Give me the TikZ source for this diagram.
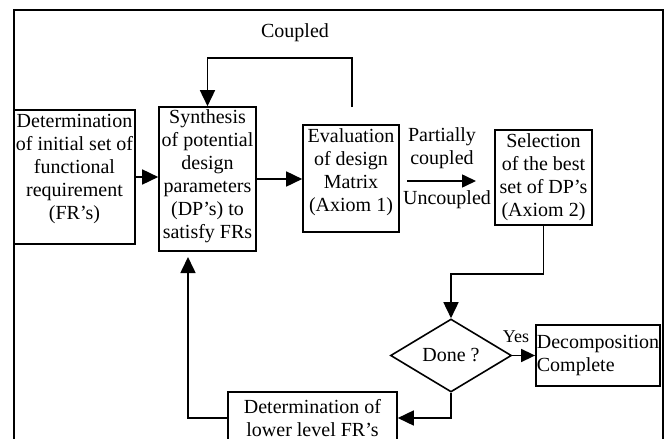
\documentclass[tikz,border=0pt]{standalone}
\usepackage{fontspec}
\setmainfont{Liberation Serif}
\usetikzlibrary{arrows.meta,shapes.geometric}
\newcommand\dropdepth[1]{\rule[-#1]{0pt}{#1}}
\begin{document}
\begin{tikzpicture}[x=1pt,y=-1pt,
  every node/.style={font=\fontsize{20}{23}\selectfont, inner sep=0pt},
  box/.style={draw, line width=1.6pt, align=center},
  lin/.style={line width=1.6pt},
  arr/.style={line width=1.6pt, -{Triangle[length=16pt,width=15pt]}},
  arrs/.style={line width=1.6pt, -{Triangle[length=14pt,width=13pt]}}]
\fill[white] (0,0) rectangle (667,439);
\clip (0,0) rectangle (667,439);
% outer frame
\draw[lin] (14,10) rectangle (663,470);
% boxes
\node[box, minimum width=121pt, minimum height=134pt] (b1) at (74.5,177)
  {Determination\\of initial set of\\functional\\requirement\\(FR’s)\dropdepth{20pt}};
\node[box, minimum width=97pt, minimum height=144pt] (b2) at (207.5,179)
  {Synthesis\\of potential\\design\\parameters\\(DP’s) to\\satisfy FRs\dropdepth{9pt}};
\node[box, minimum width=96pt, minimum height=107pt] (b3) at (351,178.5)
  {Evaluation\\of design\\Matrix\\(Axiom 1)\dropdepth{16pt}};
\node[box, minimum width=97pt, minimum height=95pt] (b4) at (543.5,177.5)
  {Selection\\of the best\\set of DP’s\\(Axiom 2)};
\node[draw, diamond, line width=1.6pt, minimum width=121pt, minimum height=73pt,
  shape aspect=1.66] (d) at (451,355.5) {Done ?};
\node[box, align=left, minimum width=122pt, minimum height=61pt, inner xsep=1pt]
  (b6) at (598,355.5) {Decomposition\\Complete};
\node[box, minimum width=169pt, minimum height=52pt] (b5) at (312.5,418)
  {Determination of\\lower level FR’s};
% labels
\node (coupled) at (295,33) {Coupled};
\node[align=center] (pc) at (442,148) {Partially\\coupled};
\node (unc) at (447,200) {Uncoupled};
\node[font=\fontsize{18}{20}\selectfont] (yes) at (516,337) {Yes};
% connectors
\draw[arr] (b1.east) -- (b1.east -| b2.west);
\draw[arr] (b2.east) -- (b2.east -| b3.west);
\coordinate (c1) at (352,107);
\draw[arr] (c1) -- ++(0,-49) -| (b2.north);
\coordinate (p1) at (407,181);
\coordinate (p2) at (476,181);
\draw[arrs] (p1) -- (p2);
\draw[arr] (b4.south) -- ++(0,48) -| (d.north);
\draw[arrs] (d.east) -- (b6.west);
\draw[arr] (d.south) |- (b5.east);
\coordinate (f) at (188,257);
\draw[arr] (b5.west) -| (f);
\end{tikzpicture}
\end{document}
